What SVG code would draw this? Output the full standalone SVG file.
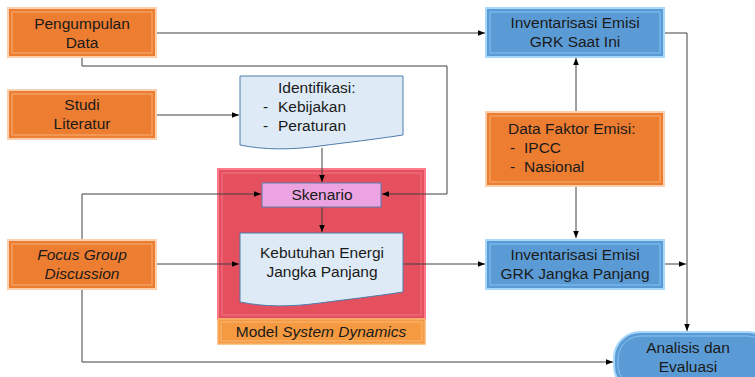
<svg xmlns="http://www.w3.org/2000/svg" width="755" height="377" viewBox="0 0 755 377">
<defs>
<marker id="ah" viewBox="0 0 10 10" refX="10" refY="5" markerWidth="7" markerHeight="7" markerUnits="userSpaceOnUse" orient="auto"><path d="M0,1 L10,5 L0,9 Z" fill="#000"/></marker>
<style>
text{font-family:"Liberation Sans",Arial,sans-serif;font-size:15.5px;fill:#1a1a1a}
.c{text-anchor:middle}
.it{font-style:italic}
.or{fill:#ED7D31;stroke:#FAD0AE;stroke-width:2}
.ori{fill:none;stroke:#F7B078;stroke-width:1}
.bl{fill:#5B9BD5;stroke:#A8D8FA;stroke-width:2}
.bli{fill:none;stroke:#86C3F2;stroke-width:1}
.doc{fill:#DEEBF7;stroke:#4F7CAE;stroke-width:1}
.la{fill:none;stroke:#404040;stroke-width:1;marker-end:url(#ah)}
</style>
</defs>
<rect width="755" height="377" fill="#fff"/>
<g id="model-system-dynamics">
<rect x="218" y="169" width="207" height="150" fill="#E5505F" stroke="#FF7B8C" stroke-width="2"/>
<rect x="222" y="173" width="199" height="142" fill="none" stroke="#F57585" stroke-width="1"/>
<rect x="218" y="319" width="207" height="25" fill="#F59A40" stroke="#FBB36A" stroke-width="1.5"/>
<rect x="221" y="322" width="201" height="19" fill="none" stroke="#F8B879" stroke-width="1"/>
<text x="321" y="337" class="c">Model <tspan class="it">System Dynamics</tspan></text>
</g>
<g id="connectors">
<path class="la" d="M157,33 H485"/>
<path class="la" d="M82,57 V66 H447 V194 H382"/>
<path class="la" d="M157,115 H239"/>
<path class="la" d="M322,148 V182"/>
<path class="la" d="M82,239 V194 H261"/>
<path class="la" d="M157,264 H239"/>
<path class="la" d="M322,207 V232"/>
<path class="la" d="M403,264 H485"/>
<path class="la" d="M576,186 V238"/>
<path class="la" d="M576,112 V58"/>
<path class="la" d="M664,33 H687 V331"/>
<path class="la" d="M664,264 H686"/>
<path class="la" d="M82,289 V362 H613"/>
</g>
<g id="pengumpulan-data">
<rect class="or" x="8" y="8" width="148" height="49"/>
<rect class="ori" x="12" y="12" width="140" height="41"/>
<text x="82" y="29" class="c">Pengumpulan</text>
<text x="82" y="48" class="c">Data</text>
</g>
<g id="studi-literatur">
<rect class="or" x="8" y="90" width="148" height="49"/>
<rect class="ori" x="12" y="94" width="140" height="41"/>
<text x="82" y="110" class="c">Studi</text>
<text x="82" y="129" class="c">Literatur</text>
</g>
<g id="focus-group-discussion">
<rect class="or" x="8" y="240" width="148" height="49"/>
<rect class="ori" x="12" y="244" width="140" height="41"/>
<text x="82" y="260" class="c it">Focus Group</text>
<text x="82" y="279" class="c it">Discussion</text>
</g>
<g id="identifikasi">
<path class="doc" d="M240,76 H403 V135 C370,140 350,142 320,146 C290,150 265,150 240,145 Z"/>
<text x="278" y="93">Identifikasi:</text>
<text x="263" y="112">-</text><text x="278" y="112">Kebijakan</text>
<text x="263" y="131">-</text><text x="278" y="131">Peraturan</text>
</g>
<g id="skenario">
<rect x="262" y="183" width="119" height="24" fill="#EBA3E2" stroke="#5A7BB0" stroke-width="1"/>
<text x="322" y="200" class="c">Skenario</text>
</g>
<g id="kebutuhan-energi">
<path class="doc" d="M240,233 H403 V292 C370,297 350,299 320,303 C290,307 265,307 240,302 Z"/>
<text x="322" y="258" class="c">Kebutuhan Energi</text>
<text x="322" y="277" class="c">Jangka Panjang</text>
</g>
<g id="inventarisasi-saat-ini">
<rect class="bl" x="486" y="8" width="178" height="49"/>
<rect class="bli" x="490" y="12" width="170" height="41"/>
<text x="575" y="28" class="c">Inventarisasi Emisi</text>
<text x="575" y="47" class="c">GRK Saat Ini</text>
</g>
<g id="data-faktor-emisi">
<rect class="or" x="486" y="112" width="178" height="74"/>
<rect class="ori" x="490" y="116" width="170" height="66"/>
<text x="508" y="134">Data Faktor Emisi:</text>
<text x="510" y="153">-</text><text x="524" y="153">IPCC</text>
<text x="510" y="172">-</text><text x="524" y="172">Nasional</text>
</g>
<g id="inventarisasi-jangka-panjang">
<rect class="bl" x="486" y="240" width="178" height="49"/>
<rect class="bli" x="490" y="244" width="170" height="41"/>
<text x="575" y="260" class="c">Inventarisasi Emisi</text>
<text x="575" y="279" class="c">GRK Jangka Panjang</text>
</g>
<g id="analisis-evaluasi">
<rect x="614" y="332" width="160" height="60" rx="26" ry="26" fill="#5B9BD5" stroke="#A8D8FA" stroke-width="2"/>
<rect x="618" y="336" width="152" height="52" rx="23" ry="23" fill="none" stroke="#86C3F2" stroke-width="1"/>
<text x="688" y="353" class="c">Analisis dan</text>
<text x="688" y="372" class="c">Evaluasi</text>
</g>
</svg>
